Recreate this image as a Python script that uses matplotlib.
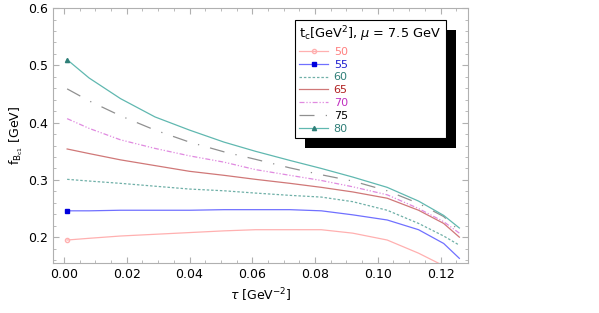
import numpy as np
import matplotlib.pyplot as plt
from matplotlib.patches import Rectangle
from matplotlib.transforms import IdentityTransform
from matplotlib.ticker import MultipleLocator

# tau grid [GeV^-2] and f_Bc1 [GeV] curves
tau = [0.001, 0.008, 0.018, 0.029, 0.040, 0.051, 0.061, 0.072, 0.082, 0.092, 0.103, 0.113, 0.121, 0.126]
f50 = [0.195, 0.198, 0.202, 0.205, 0.208, 0.211, 0.213, 0.213, 0.213, 0.207, 0.195, 0.172, 0.150, 0.130]
f55 = [0.246, 0.246, 0.247, 0.247, 0.247, 0.248, 0.248, 0.248, 0.246, 0.239, 0.230, 0.213, 0.189, 0.163]
f60 = [0.301, 0.298, 0.294, 0.289, 0.284, 0.281, 0.277, 0.273, 0.270, 0.262, 0.247, 0.224, 0.202, 0.186]
f65 = [0.354, 0.346, 0.335, 0.325, 0.315, 0.308, 0.301, 0.294, 0.287, 0.279, 0.268, 0.247, 0.224, 0.200]
f70 = [0.407, 0.390, 0.370, 0.355, 0.342, 0.331, 0.318, 0.308, 0.299, 0.288, 0.274, 0.250, 0.227, 0.207]
f75 = [0.459, 0.438, 0.412, 0.387, 0.366, 0.349, 0.336, 0.321, 0.309, 0.298, 0.281, 0.259, 0.236, 0.211]
f80 = [0.510, 0.478, 0.442, 0.410, 0.387, 0.366, 0.350, 0.334, 0.320, 0.305, 0.287, 0.263, 0.238, 0.216]
labels = ['50', '55', '60', '65', '70', '75', '80']

series = [f50, f55, f60, f65, f70, f75, f80]
line_colors = ['#ffb0b0', '#7070ff', '#70b0a8', '#d07878', '#e08ae0', '#909090', '#60b8b0']
text_colors = ['#ff8080', '#2020d0', '#2f7f78', '#b02020', '#c030c0', '#000000', '#2f7f78']
styles = ['-', '-', (0, (2, 1.5)), '-', (0, (4, 1.5, 1, 1.5, 1, 1.5)), (0, (12, 9, 1, 9)), '-']
markers = ['o', 's', None, None, None, None, '^']
mfc = ['none', '#0000dd', None, None, None, None, '#2f7f78']

fig = plt.figure(figsize=(5.99, 3.13), dpi=100)
ax = fig.add_axes([0.0885, 0.16, 0.6925, 0.814])

for y, lab, c, ls, m, fc in zip(series, labels, line_colors, styles, markers, mfc):
    ax.plot(tau, y, color=c, ls=ls, lw=0.9, label=lab,
            marker=m, markevery=[0], ms=3, mfc=fc, mec=c if fc == 'none' else fc)

ax.set_xlim(-0.0035, 0.1287)
ax.set_ylim(0.155, 0.6)
ax.xaxis.set_major_locator(MultipleLocator(0.02))
ax.xaxis.set_minor_locator(MultipleLocator(0.005))
ax.yaxis.set_major_locator(MultipleLocator(0.1))
ax.yaxis.set_minor_locator(MultipleLocator(0.02))
ax.xaxis.set_major_formatter(plt.FormatStrFormatter('%.2f'))
ax.yaxis.set_major_formatter(plt.FormatStrFormatter('%.1f'))
ax.tick_params(which='both', direction='in', top=True, right=True, color='#b0b0b0', labelsize=9)
ax.tick_params(which='major', length=4)
ax.tick_params(which='minor', length=2)
for s in ax.spines.values():
    s.set_color('#b0b0b0')

ax.set_xlabel(r'$\tau$ [GeV$^{-2}$]', fontsize=9)
ax.set_ylabel(r'f$_{\mathrm{B_{c1}}}$ [GeV]', fontsize=9, labelpad=2)

leg = ax.legend(title=r'$\mathrm{t_c}$[GeV$^2$], $\mu$ = 7.5 GeV', loc='upper left',
                bbox_to_anchor=(0.583, 0.953), borderaxespad=0, fontsize=8, title_fontsize=9.3,
                handlelength=2.6, labelspacing=0.25, borderpad=0.4, fancybox=False,
                framealpha=1, alignment='left', handletextpad=0.5)
leg.get_frame().set_edgecolor('black')
leg.get_frame().set_linewidth(0.8)
leg.set_zorder(6)
for t, c in zip(leg.get_texts(), text_colors):
    t.set_color(c)

# black drop shadow: right strip and bottom strip outside the legend box
fig.canvas.draw()
bb = leg.get_window_extent()
d = 10
for x0, y0, w, h in [(bb.x1, bb.y0 - d, d, bb.height), (bb.x0 + d, bb.y0 - d, bb.width, d)]:
    ax.add_patch(Rectangle((x0, y0), w, h, transform=IdentityTransform(),
                           facecolor='black', edgecolor='none', zorder=5.5, clip_on=False))

fig.savefig('out.png', dpi=100)
